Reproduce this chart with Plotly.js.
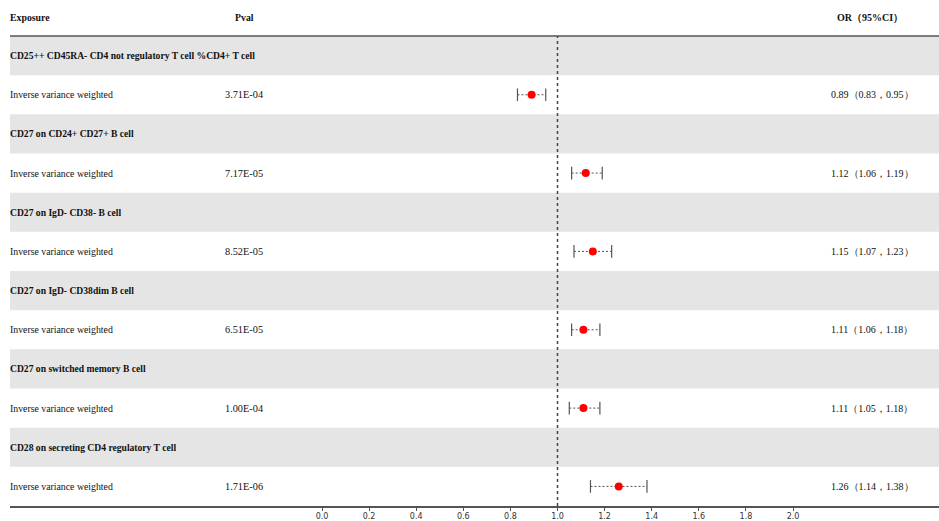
<!DOCTYPE html>
<html>
<head>
<meta charset="utf-8">
<script src="https://cdn.plot.ly/plotly-3.0.1.min.js"></script>
<style>html,body{margin:0;padding:0;background:#fff;}#chart{width:939px;height:521px;}</style>
</head>
<body>
<div id="chart"></div>
<script>
const exposures = [
  "CD25++ CD45RA- CD4 not regulatory T cell %CD4+ T cell",
  "CD27 on CD24+ CD27+ B cell",
  "CD27 on IgD- CD38- B cell",
  "CD27 on IgD- CD38dim B cell",
  "CD27 on switched memory B cell",
  "CD28 on secreting CD4 regulatory T cell"
];
const methods = ["Inverse variance weighted","Inverse variance weighted","Inverse variance weighted","Inverse variance weighted","Inverse variance weighted","Inverse variance weighted"];
const pvals = ["3.71E-04","7.17E-05","8.52E-05","6.51E-05","1.00E-04","1.71E-06"];
const orVals = [0.89, 1.12, 1.15, 1.11, 1.11, 1.26];
const ciLow = [0.83, 1.06, 1.07, 1.06, 1.05, 1.14];
const ciHigh = [0.95, 1.19, 1.23, 1.18, 1.18, 1.38];
const tickVals = [0.0, 0.2, 0.4, 0.6, 0.8, 1.0, 1.2, 1.4, 1.6, 1.8, 2.0];
const headers = ["Exposure", "Pval", "OR（95%CI）"];

const W = 939, H = 521;
const mL = 10, mR = 0, mT = 36, mB = 15;
const plotW = W - mL - mR;
const pxPerUnit = 235.5;
const x0px = 322;
const xr0 = -(x0px - mL) / pxPerUnit;
const xr1 = xr0 + plotW / pxPerUnit;
const px2paper = p => (p - mL) / plotW;

const serif = "Liberation Serif, Times New Roman, serif";
const textColor = "#111";
const traces = [];
const shapes = [];
const annotations = [];
const nRows = exposures.length * 2;

exposures.forEach((e, i) => {
  const yE = 2 * i, yM = 2 * i + 1;
  shapes.push({type: "rect", xref: "paper", yref: "y", x0: 0, x1: 1, y0: yE - 0.5, y1: yE + 0.5,
    fillcolor: "#e5e5e5", line: {width: 0}, layer: "below"});
  annotations.push({xref: "paper", yref: "y", x: 0, y: yE, xanchor: "left", yanchor: "middle", xshift: -2,
    text: "<b>" + e + "</b>", showarrow: false, font: {family: serif, size: 9.6, color: textColor}});
  annotations.push({xref: "paper", yref: "y", x: 0, y: yM, xanchor: "left", yanchor: "middle", xshift: -2,
    text: methods[i], showarrow: false, font: {family: serif, size: 9.8, color: textColor}});
  annotations.push({xref: "paper", yref: "y", x: px2paper(244), y: yM, xanchor: "center", yanchor: "middle",
    text: pvals[i], showarrow: false, font: {family: serif, size: 10.3, color: textColor}});
  annotations.push({xref: "paper", yref: "y", x: px2paper(872), y: yM, xanchor: "center", yanchor: "middle",
    text: orVals[i].toFixed(2) + "（" + ciLow[i].toFixed(2) + "，" + ciHigh[i].toFixed(2) + "）",
    showarrow: false, font: {family: serif, size: 10, color: textColor}});
  traces.push({type: "scatter", mode: "lines+markers", x: [ciLow[i], ciHigh[i]], y: [yM, yM],
    line: {color: "#555", width: 1, dash: "2px,2px"},
    marker: {symbol: "line-ns-open", size: 9, line: {color: "#333", width: 1.2}},
    hoverinfo: "skip", showlegend: false});
});

traces.push({type: "scatter", mode: "markers", x: orVals, y: orVals.map((v, i) => 2 * i + 1),
  marker: {color: "#ff0000", size: 8}, showlegend: false});

// headers
const headerX = [0, px2paper(244), px2paper(870)];
const headerAnchor = ["left", "center", "center"];
const headerSize = [9.8, 9.8, 10];
headers.forEach((h, k) => {
  annotations.push({xref: "paper", yref: "paper", x: headerX[k], y: 1 + (mT - 17) / (H - mT - mB),
    xanchor: headerAnchor[k], yanchor: "middle", xshift: k === 0 ? -2 : 0, text: "<b>" + h + "</b>", showarrow: false,
    font: {family: serif, size: headerSize[k], color: textColor}});
});

shapes.push({type: "line", xref: "paper", yref: "paper", x0: 0, x1: 1, y0: 1, y1: 1,
  line: {color: "#555", width: 1.5}});
shapes.push({type: "line", xref: "x", yref: "paper", x0: 1, x1: 1, y0: 0, y1: 1,
  line: {color: "#444", width: 1.5, dash: "dot"}, layer: "above"});

const layout = {
  width: W, height: H,
  margin: {l: mL, r: mR, t: mT, b: mB, pad: 0},
  paper_bgcolor: "#fff", plot_bgcolor: "#fff",
  xaxis: {range: [xr0, xr1], tickvals: tickVals, ticktext: tickVals.map(v => v.toFixed(1)),
    ticks: "outside", ticklen: 3, tickcolor: "#555", tickwidth: 1, ticklabelstandoff: -1,
    showline: true, linecolor: "#555", linewidth: 1.5, showgrid: false, zeroline: false,
    tickfont: {family: "DejaVu Sans, sans-serif", size: 8, color: "#333"}, automargin: false, fixedrange: true},
  yaxis: {range: [nRows - 0.5, -0.5], showticklabels: false, showgrid: false, zeroline: false,
    showline: false, ticks: "", automargin: false, fixedrange: true},
  shapes: shapes, annotations: annotations, showlegend: false, hovermode: false
};

Plotly.newPlot("chart", traces, layout, {displayModeBar: false, staticPlot: true});
</script>
</body>
</html>
